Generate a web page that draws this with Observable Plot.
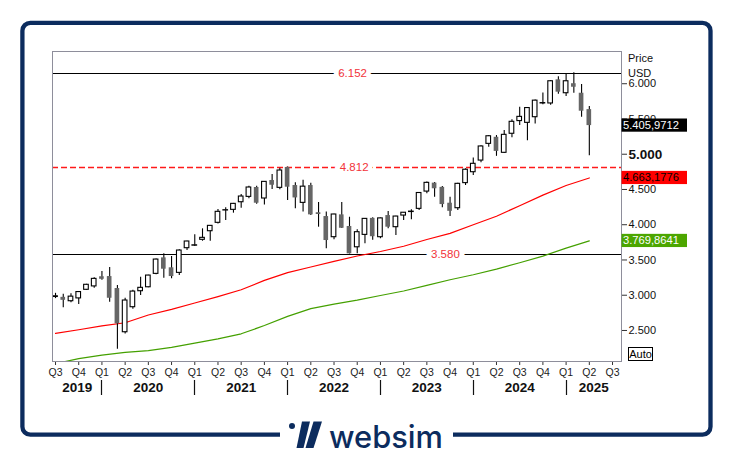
<!DOCTYPE html>
<html>
<head>
<meta charset="utf-8">
<script src="https://cdn.jsdelivr.net/npm/d3@7"></script>
<script src="https://cdn.jsdelivr.net/npm/@observablehq/plot@0.6"></script>
<style>
  html, body { margin: 0; padding: 0; background: #fff; }
  svg { display: block; }
</style>
</head>
<body>
<script>
// ---------------- DATA (monthly candles) ----------------
const months = [
  "2019-07","2019-08","2019-09","2019-10","2019-11","2019-12",
  "2020-01","2020-02","2020-03","2020-04","2020-05","2020-06","2020-07","2020-08","2020-09","2020-10","2020-11","2020-12",
  "2021-01","2021-02","2021-03","2021-04","2021-05","2021-06","2021-07","2021-08","2021-09","2021-10","2021-11","2021-12",
  "2022-01","2022-02","2022-03","2022-04","2022-05","2022-06","2022-07","2022-08","2022-09","2022-10","2022-11","2022-12",
  "2023-01","2023-02","2023-03","2023-04","2023-05","2023-06","2023-07","2023-08","2023-09","2023-10","2023-11","2023-12",
  "2024-01","2024-02","2024-03","2024-04","2024-05","2024-06","2024-07","2024-08","2024-09","2024-10","2024-11","2024-12",
  "2025-01","2025-02","2025-03","2025-04"
];
const open = [
  2975,2970,2915,2955,3077,3125,
  3262,3265,3095,2475,2830,3057,3113,3303,3530,3389,3317,3667,
  3703,3786,3908,4027,4202,4211,4319,4395,4528,4372,4627,4523,
  4812,4556,4310,4556,4170,4116,3823,4140,3975,3680,3856,4090,
  3823,4130,3965,4130,4180,4225,4470,4590,4530,4305,4234,4590,
  4745,4910,5147,5240,5020,5290,5470,5445,5525,5720,5720,6055,
  5865,6000,5865,5633
];
const high = [
  3027,3013,3022,3050,3155,3248,
  3338,3393,3137,2957,3070,3255,3285,3515,3588,3549,3646,3765,
  3857,3942,3990,4215,4240,4302,4429,4545,4546,4610,4712,4800,
  4818,4595,4630,4590,4315,4180,4150,4315,4106,3927,4090,4100,
  4095,4187,4120,4175,4213,4458,4607,4600,4541,4390,4587,4793,
  4948,5120,5265,5265,5336,5490,5667,5660,5768,5870,6044,6100,
  6140,6155,5990,5677
];
const low = [
  2952,2822,2892,2870,3070,3100,
  3214,2900,2234,2450,2800,2996,3105,3290,3240,3233,3280,3635,
  3690,3766,3766,4010,4060,4164,4233,4368,4290,4279,4500,4495,
  4343,4225,4180,4130,3965,3658,3786,3945,3585,3587,3730,3780,
  3800,3943,3847,4060,4070,4200,4440,4390,4240,4116,4200,4556,
  4698,4880,5100,4970,5011,5235,5407,5190,5430,5700,5696,5850,
  5820,5865,5525,4980
];
const close = [
  2985,2928,2980,3045,3148,3232,
  3226,2957,2594,2925,3052,3105,3279,3506,3369,3265,3634,3762,
  3708,3814,3984,4183,4206,4296,4400,4528,4305,4608,4560,4769,
  4532,4380,4540,4140,4145,3776,4145,3950,3587,3894,4083,3830,
  4090,3965,4116,4170,4186,4450,4594,4510,4286,4190,4580,4780,
  4864,5110,5255,5040,5275,5460,5530,5655,5760,5725,6035,5880,
  6035,5950,5610,5406
];

// moving averages (read at quarterly points)
const maMonths = ["2019-07","2019-10","2020-01","2020-04","2020-07","2020-10","2021-01","2021-04",
  "2021-07","2021-10","2022-01","2022-04","2022-07","2022-10","2023-01","2023-04",
  "2023-07","2023-10","2024-01","2024-04","2024-07","2024-10","2025-01","2025-04"];
const maRed = [2460,2510,2565,2610,2720,2800,2890,2980,3077,3210,3320,3400,3480,3556,3620,3695,3790,3877,4000,4120,4270,4420,4556,4663];
const maGreen = [2030,2100,2150,2190,2215,2260,2320,2380,2453,2570,2700,2810,2875,2930,2996,3060,3140,3220,3290,3370,3460,3555,3668,3770];

// horizontal levels
const levelValues = [6152, 4812, 3580];
const levelLabels = ["6.152", "4.812", "3.580"];

// axis ticks
const yTicks = [2500, 3000, 3500, 4000, 4500, 5000, 5500, 6000];
const quarterMonths = ["2019-07","2019-10","2020-01","2020-04","2020-07","2020-10","2021-01","2021-04","2021-07","2021-10",
  "2022-01","2022-04","2022-07","2022-10","2023-01","2023-04","2023-07","2023-10","2024-01","2024-04","2024-07","2024-10",
  "2025-01","2025-04","2025-07"];
const quarterLabels = ["Q3","Q4","Q1","Q2","Q3","Q4","Q1","Q2","Q3","Q4","Q1","Q2","Q3","Q4","Q1","Q2","Q3","Q4",
  "Q1","Q2","Q3","Q4","Q1","Q2","Q3"];
const years = ["2019","2020","2021","2022","2023","2024","2025"];

// right-side value tags
const tagValues = [5405.9712, 4663.1776, 3769.8641];
const tagLabels = ["5.405,9712", "4.663,1776", "3.769,8641"];
const tagFills  = ["#000000", "#ff0000", "#4ca600"];
const tagInk    = ["#ffffff", "#000000", "#ffffff"];

// ---------------- BUILD ----------------
const mi = s => (+s.slice(0, 4) - 2019) * 12 + (+s.slice(5, 7) - 7);
const candles = months.map((m, k) => ({i: mi(m), o: open[k], h: high[k], l: low[k], c: close[k]}));
const isUp = d => d.c >= d.o;
const red = maMonths.map((m, k) => ({i: mi(m), v: maRed[k]}));
const green = maMonths.map((m, k) => ({i: mi(m), v: maGreen[k]}));
const xDomain = [-0.39, 73.16];
const yDomain = [2060, 6457];
const qPos = quarterMonths.map(mi);
const fmt = d => d3.format(",")(d).replace(/,/g, ".");
const yearData = years.map(y => {
  const a = Math.max(xDomain[0], mi(y + "-01"));
  const b = Math.min(xDomain[1], mi((+y + 1) + "-01"));
  return {year: y, mid: (a + b) / 2};
});
const levels = levelValues.map((v, k) => ({v, label: levelLabels[k], at: [38.4, 38.6, 50.4][k]}));
const FONT = "'Liberation Sans', Arial, Helvetica, sans-serif";

const svg = Plot.plot({
  width: 733, height: 458,
  marginLeft: 52, marginRight: 112, marginTop: 51, marginBottom: 97,
  style: {fontFamily: FONT, background: "white", overflow: "visible"},
  x: {type: "linear", domain: xDomain, axis: null, label: null},
  y: {type: "linear", domain: yDomain, axis: null, label: null},
  marks: [
    Plot.ruleY([levelValues[0]], {stroke: "#000", strokeWidth: 1, shapeRendering: "crispEdges"}),
    Plot.ruleY([levelValues[1]], {stroke: "#ff1a1a", strokeWidth: 1.5, strokeDasharray: "6,3"}),
    Plot.ruleY([levelValues[2]], {stroke: "#000", strokeWidth: 1, shapeRendering: "crispEdges"}),
    Plot.line(green, {x: "i", y: "v", stroke: "#44a000", strokeWidth: 1.2, clip: true}),
    Plot.line(red, {x: "i", y: "v", stroke: "#ff0000", strokeWidth: 1.2, clip: true}),
    Plot.text(levels, {x: "at", y: "v", text: "label", fill: "#f2333a", stroke: "white", strokeWidth: 10, fontSize: 11.5}),
    Plot.ruleX(candles, {x: "i", y1: "l", y2: "h", stroke: "#000", strokeWidth: 1.1}),
    Plot.rect(candles, {
      x1: d => d.i - 0.3, x2: d => d.i + 0.3, y1: "o", y2: "c",
      fill: d => isUp(d) ? "#ffffff" : "#666666",
      stroke: d => isUp(d) ? "#000000" : "none",
      strokeWidth: 1.1
    }),
    Plot.axisY({anchor: "right", ticks: yTicks.filter(t => t !== 5000), tickFormat: fmt,
      tickSize: 5, tickPadding: 2, fontSize: 11, fill: "#111", stroke: "#333"}),
    Plot.axisY({anchor: "right", ticks: [5000], tickFormat: fmt,
      tickSize: 5, tickPadding: 2, fontSize: 13.5, fontWeight: "bold", fill: "#111", stroke: "#333"}),
    Plot.axisX({anchor: "bottom", ticks: qPos, tickFormat: i => quarterLabels[qPos.indexOf(i)],
      tickSize: 4, tickPadding: 3, fontSize: 10.5, fill: "#222", stroke: "#333"}),
    Plot.text(yearData, {x: "mid", text: "year", frameAnchor: "bottom", lineAnchor: "middle", dy: 26,
      fontSize: 13.5, fontWeight: "bold", fill: "#111"}),
    Plot.frame({stroke: "#8e8e9b", strokeWidth: 1, shapeRendering: "crispEdges"})
  ]
});
document.body.appendChild(svg);

// ---------------- decorations placed through the scales ----------------
const xs = svg.scale("x"), ys = svg.scale("y");
const root = d3.select(svg);
const deco = root.append("g").attr("font-family", FONT).attr("text-anchor", "start");

// year separators
years.slice(1).forEach(y => {
  const px = Math.round(xs.apply(mi(y + "-01"))) + 0.5;
  deco.append("line").attr("x1", px).attr("x2", px).attr("y1", 380).attr("y2", 395)
    .attr("stroke", "#111").attr("stroke-width", 1.2);
});

// Price / USD
deco.append("text").attr("x", 628).attr("y", 61.5).attr("font-size", 11).attr("fill", "#111").text("Price");
deco.append("text").attr("x", 628).attr("y", 76.5).attr("font-size", 11).attr("fill", "#111").text("USD");

// value tags
tagValues.forEach((v, k) => {
  const cy = ys.apply(v);
  deco.append("rect").attr("x", 621.5).attr("y", cy - 6.6).attr("width", 65.5).attr("height", 13.2).attr("fill", tagFills[k]);
  deco.append("text").attr("x", 623).attr("y", cy + 4).attr("font-size", 11.2).attr("fill", tagInk[k]).text(tagLabels[k]);
});

// Auto box
deco.append("rect").attr("x", 628.5).attr("y", 347.5).attr("width", 24).attr("height", 13)
  .attr("fill", "white").attr("stroke", "#000").attr("stroke-width", 1);
deco.append("text").attr("x", 640.5).attr("y", 358).attr("text-anchor", "middle").attr("font-size", 11).attr("fill", "#000").text("Auto");

// outer frame
const NAVY = "#0c2c5e";
deco.append("rect").attr("x", 22.4).attr("y", 22.8).attr("width", 688.1).attr("height", 411.9)
  .attr("rx", 8).attr("fill", "none").attr("stroke", NAVY).attr("stroke-width", 4.3);
deco.append("rect").attr("x", 280).attr("y", 428).attr("width", 173).attr("height", 14).attr("fill", "white");

// logo
const logo = deco.append("g").attr("fill", NAVY);
logo.append("circle").attr("cx", 292).attr("cy", 426).attr("r", 3);
logo.append("polygon").attr("points", "302,421.5 310,421.5 303.5,448 296.5,448");
logo.append("polygon").attr("points", "313.5,421.5 322,421.5 313.5,448 305.5,448");
logo.append("text").attr("x", 329).attr("y", 448.3).attr("text-anchor", "start")
  .attr("font-family", "Inter, 'Open Sans', sans-serif")
  .attr("font-weight", 500).attr("font-size", 31).attr("textLength", 114).attr("lengthAdjust", "spacingAndGlyphs")
  .text("websim");
</script>
</body>
</html>
